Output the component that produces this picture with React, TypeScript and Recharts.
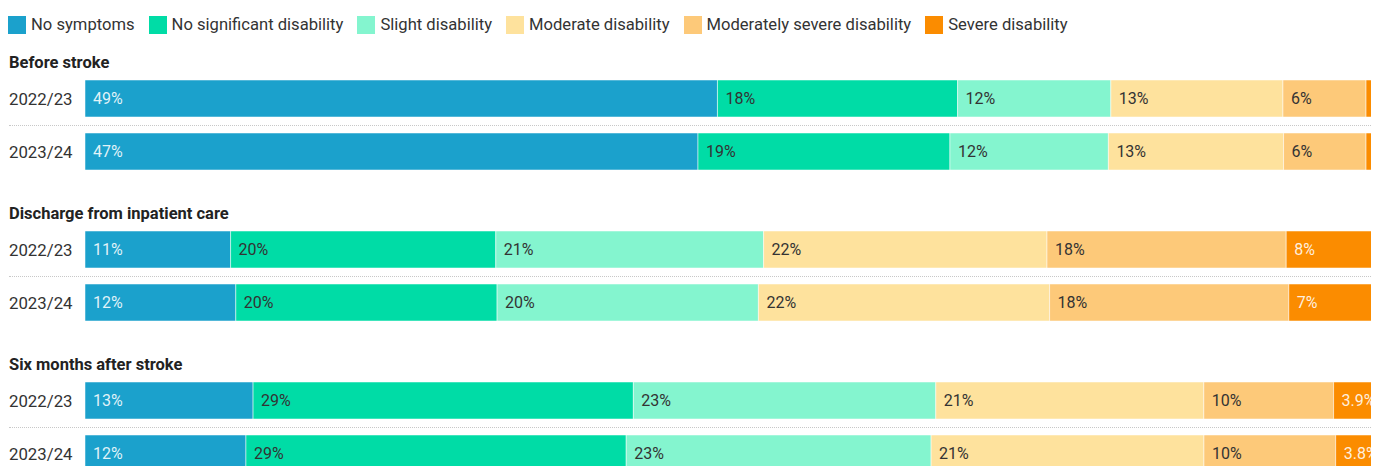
import React from 'react';
import { BarChart, Bar, XAxis, YAxis, LabelList } from 'recharts';

const years = ['2022/23', '2023/24'];
const groups = ['Before stroke', 'Discharge from inpatient care', 'Six months after stroke'];

// values per row: [before 22/23, before 23/24, discharge 22/23, discharge 23/24, six months 22/23, six months 23/24]
const noSymptoms = [48.7, 47.2, 11.2, 11.6, 12.95, 12.4];
const noSignificant = [18.49, 19.4, 20.4, 20.1, 29.3, 29.3];
const slight = [11.8, 12.2, 20.6, 20.1, 23.3, 23.49];
const moderate = [13.25, 13.49, 21.8, 22.4, 20.65, 21.02];
const moderatelySevere = [6.4, 6.35, 18.4, 18.4, 10.0, 10.15];
const severe = [1.46, 1.36, 7.6, 7.4, 3.9, 3.8];

const seriesNames = [
  'No symptoms',
  'No significant disability',
  'Slight disability',
  'Moderate disability',
  'Moderately severe disability',
  'Severe disability',
];
const seriesKeys = ['s0', 's1', 's2', 's3', 's4', 's5'];
const seriesValues = [noSymptoms, noSignificant, slight, moderate, moderatelySevere, severe];
const colors = ['#1ba1cc', '#00dca6', '#84f5cf', '#fee29d', '#fdc979', '#fb8c00'];
const lightLabel = [true, false, false, false, false, true];

const FONT = 'Roboto, sans-serif';

function groupData(g: number) {
  return years.map((y, i) => {
    const row: any = { year: y };
    seriesKeys.forEach((k, s) => {
      row[k] = seriesValues[s][g * 2 + i];
    });
    return row;
  });
}

function fmt(v: number) {
  return v >= 5 ? `${Math.round(v)}%` : `${v.toFixed(1)}%`;
}

const makeLabel = (light: boolean) => (props: any) => {
  const { x, y, height, value } = props;
  if (value == null || value < 3) return null;
  return (
    <text
      x={x + 8}
      y={y + height / 2}
      dominantBaseline="central"
      fontSize={16}
      fontFamily={FONT}
      fill={light ? 'rgba(255,255,255,0.88)' : '#333'}
    >
      {fmt(value)}
    </text>
  );
};

const YTick = (props: any) => {
  const { y, payload } = props;
  return (
    <text x={1} y={y} dominantBaseline="central" textAnchor="start" fontSize={16.8} fontFamily={FONT} fill="#333">
      {payload.value}
    </text>
  );
};

const GROUP_PITCH = 151;
const CHART_W = 1377;
const CHART_H = 106;
const AXIS_W = 77;

export default function App() {
  return (
    <div
      style={{
        position: 'relative',
        width: 1371,
        height: 458,
        overflow: 'hidden',
        fontFamily: FONT,
        color: '#333',
        background: '#fff',
      }}
    >
      <div style={{ position: 'absolute', top: 8, left: 0, display: 'flex', alignItems: 'center', height: 18 }}>
        {seriesNames.map((n, i) => (
          <div key={n} style={{ display: 'flex', alignItems: 'center', marginRight: 14 }}>
            <div style={{ width: 18, height: 18, background: colors[i], marginRight: 5 }} />
            <span style={{ fontSize: 16.6, lineHeight: '18px', color: '#333', whiteSpace: 'nowrap' }}>{n}</span>
          </div>
        ))}
      </div>
      {groups.map((g, gi) => {
        const top = 46 + gi * GROUP_PITCH;
        return (
          <div key={g}>
            <div
              style={{
                position: 'absolute',
                top,
                left: 1,
                height: 18,
                lineHeight: '18px',
                fontSize: 16.5,
                fontWeight: 700,
                color: '#222',
                whiteSpace: 'nowrap',
              }}
            >
              {g}
            </div>
            <div
              style={{
                position: 'absolute',
                top: top + 18 + CHART_H / 2,
                left: 1,
                width: 1370,
                borderTop: '1px dotted #c8c8c8',
              }}
            />
            <div style={{ position: 'absolute', top: top + 18, left: 0 }}>
              <BarChart
                width={CHART_W}
                height={CHART_H}
                data={groupData(gi)}
                layout="vertical"
                margin={{ top: 0, right: 0, bottom: 0, left: 0 }}
                barCategoryGap={8}
              >
                <XAxis type="number" domain={[0, 100]} hide />
                <YAxis
                  type="category"
                  dataKey="year"
                  width={AXIS_W}
                  axisLine={false}
                  tickLine={false}
                  tick={<YTick />}
                />
                {seriesKeys.map((k, i) => (
                  <Bar
                    key={k}
                    dataKey={k}
                    name={seriesNames[i]}
                    stackId="a"
                    fill={colors[i]}
                    stroke="rgba(255,255,255,0.5)"
                    strokeWidth={1}
                    isAnimationActive={false}
                  >
                    <LabelList dataKey={k} content={makeLabel(lightLabel[i])} />
                  </Bar>
                ))}
              </BarChart>
            </div>
          </div>
        );
      })}
    </div>
  );
}
